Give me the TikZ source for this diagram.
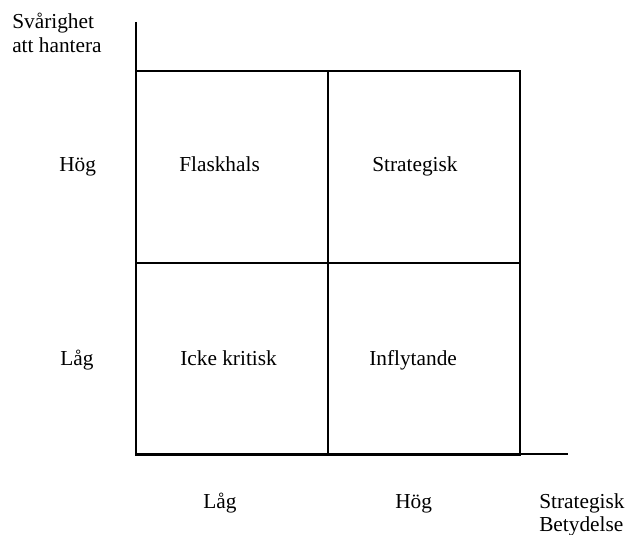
\documentclass[tikz,border=0pt]{standalone}
\usepackage{fontspec}
\setmainfont{Liberation Serif}
\begin{document}
\begin{tikzpicture}[x=0.75pt,y=-0.75pt,
  lbl/.style={anchor=base west,inner sep=0pt,font=\fontsize{16}{18}\selectfont,align=left},
  gridline/.style={line width=1.5pt},
  axisline/.style={line width=0.8pt}]
\useasboundingbox (0,0) rectangle (626,535);
% axes
\coordinate (ytop) at (136,22);
\coordinate (origin) at (136,454);
\coordinate (xend) at (568,454);
\draw[axisline] (ytop) -- (origin) -- (xend);
% grid
\coordinate (tl) at (136,71);
\coordinate (br) at (520,455);
\coordinate (mt) at (328,71);
\coordinate (mb) at (328,455);
\coordinate (ml) at (136,263);
\coordinate (mr) at (520,263);
\draw[gridline] (tl) rectangle (br);
\draw[gridline] (mt) -- (mb);
\draw[gridline] (ml) -- (mr);
% labels
\node[lbl] (ylab1) at (12,29) {Svårighet};
\node[lbl] (ylab2) at (12,53) {att hantera};
\node[lbl] (yhog) at (59,172) {Hög};
\node[lbl] (ylag) at (60,365) {Låg};
\node[lbl] (q1) at (179,172) {Flaskhals};
\node[lbl] (q2) at (372,172) {Strategisk};
\node[lbl] (q3) at (180,365) {Icke kritisk};
\node[lbl] (q4) at (369,365) {Inflytande};
\node[lbl] (xlag) at (203,508) {Låg};
\node[lbl] (xhog) at (395,508) {Hög};
\node[lbl] (xlab1) at (539,508) {Strategisk};
\node[lbl] (xlab2) at (539,531) {Betydelse};
\end{tikzpicture}
\end{document}
